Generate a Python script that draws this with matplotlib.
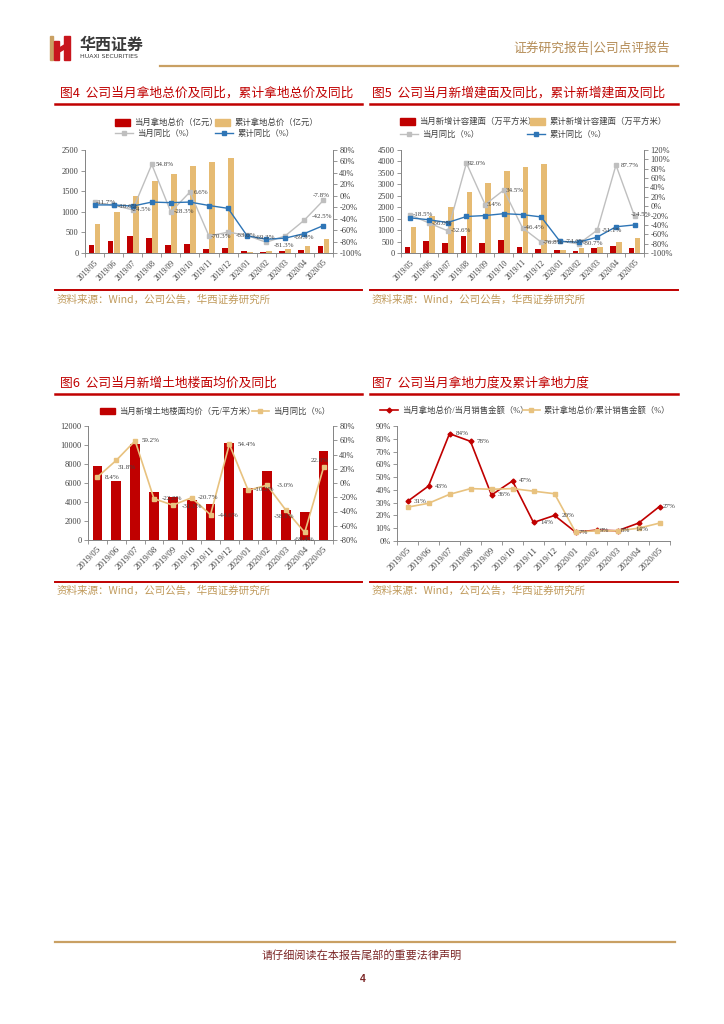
import matplotlib.pyplot as plt
import matplotlib.patches as mpatches
from matplotlib.lines import Line2D
import numpy as np

plt.rcParams['font.family'] = ['Liberation Serif', 'Noto Sans CJK SC']
plt.rcParams['axes.unicode_minus'] = False

months = ["2019/05", "2019/06", "2019/07", "2019/08", "2019/09", "2019/10", "2019/11",
          "2019/12", "2020/01", "2020/02", "2020/03", "2020/04", "2020/05"]

# 图4 拿地总价（亿元）及同比（%）
land_month = [190, 290, 410, 360, 190, 220, 90, 120, 45, 25, 45, 75, 175]
land_cum = [700, 990, 1390, 1740, 1910, 2120, 2200, 2310, 30, 55, 100, 170, 340]
land_month_yoy = [-11.7, -16.6, -24.5, 54.8, -28.3, 6.6, -70.3, -63.6, -69.3, -81.3, -69.9, -42.5, -7.8]
land_cum_yoy = [-16, -16, -18, -11, -12, -11, -17, -22, -70, -76, -74, -66, -52]
land_labels = ["-11.7%", "-16.6%", "-24.5%", "54.8%", "-28.3%", "6.6%", "-70.3%",
               "-63.6%", "-69.3%", "-81.3%", "-69.9%", "-42.5%", "-7.8%"]

# 图5 新增计容建面（万平方米）及同比（%）
area_month = [280, 510, 450, 730, 440, 555, 265, 160, 115, 85, 200, 290, 220]
area_cum = [1125, 1600, 1990, 2670, 3070, 3580, 3770, 3870, 110, 200, 265, 490, 660]
area_month_yoy = [-18.5, -36.0, -52.6, 92.0, 3.4, 34.5, -46.4, -76.8, -74.6, -80.7, -51.1, 87.7, -22.0]
area_cum_yoy = [-25, -29, -35, -22, -20, -16, -18, -23, -75, -77, -66, -44, -40]
area_labels = ["-18.5%", "-36.0%", "-52.6%", "92.0%", "3.4%", "34.5%", "-46.4%",
               "-76.8%", "-74.6%", "-80.7%", "-51.1%", "87.7%", "-24.5%"]

# 图6 新增土地楼面均价（元/平方米）及同比（%）
price = [7750, 6250, 10100, 5050, 4500, 4200, 3750, 10250, 5500, 7300, 3200, 2950, 9400]
price_yoy = [8.4, 31.8, 59.2, -22.0, -31.1, -20.7, -44.6, 54.4, -10.3, -3.0, -38.1, -69.4, 22.0]
price_labels = ["8.4%", "31.8%", "59.2%", "-22.0%", "-31.1%", "-20.7%", "-44.6%",
                "54.4%", "-10.3%", "-3.0%", "-38.1%", "-69.4%", "22.0%"]

# 图7 拿地力度（%）
ratio_month = [31, 43, 84, 78, 36, 47, 14.5, 20, 7, 8.5, 8, 14, 27]
ratio_cum = [26.5, 29.5, 36.5, 41, 40.5, 41, 39, 37, 7, 8, 8, 10, 14]
ratio_labels = ["31%", "43%", "84%", "78%", "36%", "47%", "14%", "20%", "7%", "9%", "8%", "14%", "27%"]

RED = "#C00000"
GOLD = "#E6BB73"
GRAY = "#BFBFBF"
BLUE = "#2E75B6"
LGOLD = "#E8C27F"
SPINE = "#868686"
TXT = "#404040"
SRC = "#C09A5B"

W, H = 724, 1024
fig = plt.figure(figsize=(7.24, 10.24), dpi=100)
x = np.arange(len(months))


def box(l, t, r, b):
    return [l / W, 1 - b / H, (r - l) / W, (b - t) / H]


def ftext(px, py, s, **kw):
    fig.text(px / W, 1 - py / H, s, **kw)


def hline(x0, x1, py, color, lw):
    fig.add_artist(Line2D([x0 / W, x1 / W], [1 - py / H, 1 - py / H], color=color, lw=lw))


def leg(handle, label, px, py, hl=1.8):
    fig.legend([handle], [label], loc="center left", bbox_to_anchor=(px / W, 1 - py / H),
               frameon=False, fontsize=6, borderpad=0, borderaxespad=0,
               handlelength=hl, handleheight=0.8, handletextpad=0.5,
               labelcolor=TXT)


def style(ax, axr=None, xsize=5.6):
    ax.set_xlim(-0.5, len(months) - 0.5)
    ax.set_xticks(x)
    ax.set_xticklabels(months, rotation=45, ha="right", rotation_mode="anchor",
                       fontsize=xsize, color=TXT)
    ax.tick_params(axis="x", which="major", length=0, pad=4)
    ax.set_xticks(np.arange(-0.5, len(months), 1), minor=True)
    ax.tick_params(axis="x", which="minor", length=3, width=0.6, color=SPINE)
    ax.tick_params(axis="y", labelsize=6, length=3, width=0.6, color=SPINE, pad=1.5,
                   labelcolor=TXT)
    for a in [ax] + ([axr] if axr is not None else []):
        a.spines["top"].set_visible(False)
        for s in ["left", "right", "bottom"]:
            a.spines[s].set_color(SPINE)
            a.spines[s].set_linewidth(0.7)
    if axr is not None:
        axr.tick_params(axis="y", labelsize=6, length=3, width=0.6, color=SPINE, pad=1.5,
                        labelcolor=TXT)
    else:
        ax.spines["right"].set_visible(False)


def pct(ax, lo, hi, step):
    ticks = list(range(lo, hi + 1, step))
    ax.set_ylim(lo, hi)
    ax.set_yticks(ticks)
    ax.set_yticklabels([f"{t}%" for t in ticks])


def labels(ax, vals, texts, offs):
    for i, (v, t, (dx, dy, ha)) in enumerate(zip(vals, texts, offs)):
        ax.annotate(t, (i, v), xytext=(dx, dy), textcoords="offset pixels",
                    fontsize=5, color=TXT, ha=ha, va="center")


# ---------------- header ----------------
fig.add_artist(mpatches.Rectangle((50 / W, 1 - 60 / H), 3 / W, 24 / H, color="#C9A063",
                                  transform=fig.transFigure))
fig.add_artist(mpatches.Rectangle((54 / W, 1 - 60 / H), 5 / W, 19 / H, color="#C8161D",
                                  transform=fig.transFigure))
fig.add_artist(mpatches.Rectangle((64 / W, 1 - 60 / H), 6 / W, 24 / H, color="#C8161D",
                                  transform=fig.transFigure))
fig.add_artist(mpatches.Polygon([(56 / W, 1 - 50 / H), (66 / W, 1 - 44 / H),
                                 (66 / W, 1 - 48 / H), (56 / W, 1 - 54 / H)],
                                color="#C8161D", transform=fig.transFigure))
ftext(80, 45, "华西证券", fontsize=11.5, fontweight="bold", color="#3A3A3A",
      family="Noto Sans CJK SC", va="center")
ftext(80, 57, "HUAXI SECURITIES", fontsize=4.5, color="#3A3A3A", family="DejaVu Sans",
      va="center")
ftext(670, 48, "证券研究报告|公司点评报告", fontsize=9.2, color="#B48C56", ha="right",
      va="center", family="Noto Sans CJK SC")
hline(160, 678, 66, "#C9A063", 1.6)

# ---------------- titles & source lines ----------------
for (px, py, t) in [(60, 93, "图4  公司当月拿地总价及同比，累计拿地总价及同比"),
                    (372, 93, "图5  公司当月新增建面及同比，累计新增建面及同比"),
                    (60, 383, "图6  公司当月新增土地楼面均价及同比"),
                    (372, 383, "图7  公司当月拿地力度及累计拿地力度")]:
    ftext(px, py, t, fontsize=9.2, color=RED, va="center",
          family=["Noto Sans CJK SC", "Liberation Sans"])
for (x0, x1) in [(55, 362), (370, 678)]:
    hline(x0, x1, 104, RED, 1.8)
    hline(x0, x1, 394, RED, 1.8)
    hline(x0, x1, 290, RED, 1.4)
    hline(x0, x1, 582, RED, 1.4)
for px in [57, 372]:
    for py in [300, 591]:
        ftext(px, py, "资料来源：Wind，公司公告，华西证券研究所", fontsize=7.6, color=SRC,
              va="center", family=["Noto Sans CJK SC", "Liberation Serif"])

# ---------------- 图4 ----------------
ax1 = fig.add_axes(box(85, 150, 333, 253))
ax1.bar(x - 0.16, land_month, 0.3, color=RED)
ax1.bar(x + 0.16, land_cum, 0.3, color=GOLD)
ax1.set_ylim(0, 2500)
ax1.set_yticks(range(0, 2501, 500))
ax1r = ax1.twinx()
ax1r.plot(x, land_month_yoy, color=GRAY, marker="s", ms=3, lw=1)
ax1r.plot(x, land_cum_yoy, color=BLUE, marker="s", ms=3, lw=1)
pct(ax1r, -100, 80, 20)
style(ax1, ax1r)
labels(ax1r, land_month_yoy, land_labels,
       [(1, 0, "left"), (4, -1, "left"), (-2, 0, "left"), (4, 0, "left"), (3, 0, "left"),
        (4, 0, "left"), (2, 0, "left"), (8, -3, "left"), (8, -2, "left"), (8, -3, "left"),
        (8, -2, "left"), (7, 4, "left"), (-2, 5, "center")])
leg(mpatches.Patch(color=RED), "当月拿地总价（亿元）", 115, 123)
leg(mpatches.Patch(color=GOLD), "累计拿地总价（亿元）", 215, 123)
leg(Line2D([], [], color=GRAY, marker="s", ms=3, lw=1), "当月同比（%）", 115, 134, 2.2)
leg(Line2D([], [], color=BLUE, marker="s", ms=3, lw=1), "累计同比（%）", 215, 134, 2.2)

# ---------------- 图5 ----------------
ax2 = fig.add_axes(box(401, 150, 644, 253))
ax2.bar(x - 0.16, area_month, 0.3, color=RED)
ax2.bar(x + 0.16, area_cum, 0.3, color=GOLD)
ax2.set_ylim(0, 4500)
ax2.set_yticks(range(0, 4501, 500))
ax2r = ax2.twinx()
ax2r.plot(x, area_month_yoy, color=GRAY, marker="s", ms=3, lw=1)
ax2r.plot(x, area_cum_yoy, color=BLUE, marker="s", ms=3, lw=1)
pct(ax2r, -100, 120, 20)
style(ax2, ax2r)
labels(ax2r, area_month_yoy, area_labels,
       [(2, 0, "left"), (3, 0, "left"), (3, 0, "left"), (1, 0, "left"), (2, 0, "left"),
        (2, 0, "left"), (1, 0, "left"), (2, 0, "left"), (5, 0, "left"), (4, 0, "left"),
        (4, 0, "left"), (5, 0, "left"), (-4, 2, "left")])
leg(mpatches.Patch(color=RED), "当月新增计容建面（万平方米）", 400, 122)
leg(mpatches.Patch(color=GOLD), "累计新增计容建面（万平方米）", 530, 122)
leg(Line2D([], [], color=GRAY, marker="s", ms=3, lw=1), "当月同比（%）", 400, 135, 2.2)
leg(Line2D([], [], color=BLUE, marker="s", ms=3, lw=1), "累计同比（%）", 527, 135, 2.2)

# ---------------- 图6 ----------------
ax3 = fig.add_axes(box(88, 426, 333, 540))
ax3.bar(x, price, 0.52, color=RED)
ax3.set_ylim(0, 12000)
ax3.set_yticks(range(0, 12001, 2000))
ax3r = ax3.twinx()
ax3r.plot(x, price_yoy, color=LGOLD, marker="s", ms=3.5, lw=1.2)
pct(ax3r, -80, 80, 20)
style(ax3, ax3r, xsize=6.5)
labels(ax3r, price_yoy, price_labels,
       [(7, 0, "left"), (1, -7, "left"), (7, 0, "left"), (8, 0, "left"), (9, -1, "left"),
        (6, 0, "left"), (7, -1, "left"), (8, 0, "left"), (6, 1, "left"), (10, 0, "left"),
        (-2, -6, "center"), (-1, -7, "center"), (-4, 7, "center")])
leg(mpatches.Patch(color=RED), "当月新增土地楼面均价（元/平方米）", 100, 412)
leg(Line2D([], [], color=LGOLD, marker="s", ms=3, lw=1.2), "当月同比（%）", 252, 412, 2.0)

# ---------------- 图7 ----------------
ax4 = fig.add_axes(box(397, 426, 670, 541))
ax4.plot(x, ratio_month, color=RED, marker="D", ms=2.5, lw=1.2)
ax4.plot(x, ratio_cum, color=LGOLD, marker="s", ms=3.5, lw=1.2)
pct(ax4, 0, 90, 10)
style(ax4, xsize=6.5)
labels(ax4, ratio_month, ratio_labels,
       [(6, 0, "left"), (6, 0, "left"), (6, 0, "left"), (6, 0, "left"), (6, 0, "left"),
        (6, 0, "left"), (7, 0, "left"), (7, 0, "left"), (3, 0, "left"), (3, 0, "left"),
        (3, 0, "left"), (-3, -6, "left"), (3, 0, "left")])
leg(Line2D([], [], color=RED, marker="D", ms=2.5, lw=1.2), "当月拿地总价/当月销售金额（%）", 380, 411, 2.2)
leg(Line2D([], [], color=LGOLD, marker="s", ms=3, lw=1.2), "累计拿地总价/累计销售金额（%）", 523, 411, 2.0)

# ---------------- footer ----------------
hline(55, 675, 942, "#C9A063", 1.6)
ftext(362, 955, "请仔细阅读在本报告尾部的重要法律声明", fontsize=8, color="#7B2525",
      ha="center", va="center", family="Noto Sans CJK SC")
ftext(363, 979, "4", fontsize=7.5, color="#7B2525", ha="center", va="center",
      fontweight="bold", family="Liberation Sans")

fig.savefig("out.png", dpi=100)
